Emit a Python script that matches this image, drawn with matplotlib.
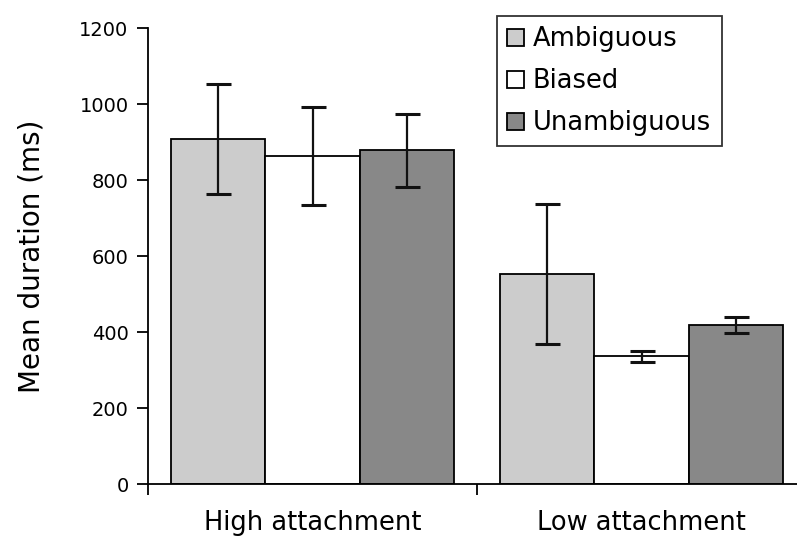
import matplotlib
matplotlib.use("Agg")
import matplotlib.pyplot as plt
import numpy as np

categories = ["High attachment", "Low attachment"]
series = ["Ambiguous", "Biased", "Unambiguous"]
ambiguous = [908, 553]
biased = [864, 336]
unambiguous = [878, 418]
ambiguous_err = [144, 185]
biased_err = [129, 14]
unambiguous_err = [96, 21]
colors = ["#cccccc", "#ffffff", "#888888"]
yticks = [0, 200, 400, 600, 800, 1000, 1200]

W, H = 797, 537
fig = plt.figure(figsize=(W / 100, H / 100), dpi=100)
left, right = 148, 806
top, bottom = 28, 484
ax = fig.add_axes([left / W, 1 - bottom / H, (right - left) / W, (bottom - top) / H])

x = np.arange(len(categories))
bw = 283 / 329 / 3
vals = [ambiguous, biased, unambiguous]
errs = [ambiguous_err, biased_err, unambiguous_err]
for i, (v, e, c, name) in enumerate(zip(vals, errs, colors, series)):
    pos = x + (i - 1) * bw
    ax.bar(pos, v, width=bw, color=c, edgecolor="black", linewidth=1.3, label=name, zorder=2)
    ax.errorbar(pos, v, yerr=e, fmt="none", ecolor="#111111", elinewidth=1.6,
                capsize=9, capthick=2.2, zorder=3)

ax.set_xlim(-0.5, len(categories) - 0.5)
ax.set_ylim(0, 1200)
ax.set_yticks(yticks)
ax.set_yticklabels([str(t) for t in yticks], fontsize=14)
ax.set_xticks([-0.5, 0.5, 1.5])
ax.set_xticklabels([])
ax.tick_params(axis="x", length=8, width=1.3, direction="out")
ax.tick_params(axis="y", length=8, width=1.3, direction="out", pad=6)
for i, c in enumerate(categories):
    ax.annotate(c, xy=(i, 0), xycoords=("data", "axes fraction"), xytext=(0, -19),
                textcoords="offset points", ha="center", va="top", fontsize=18.5)
ax.spines["top"].set_visible(False)
ax.spines["right"].set_visible(False)
ax.spines["left"].set_linewidth(1.3)
ax.spines["bottom"].set_linewidth(1.3)
ax.set_ylabel("Mean duration (ms)", fontsize=20, labelpad=24)

leg = ax.legend(loc="upper left", bbox_to_anchor=((497 - left) / (right - left), 1 - (16 - top) / (bottom - top)),
                fontsize=18.5, frameon=True, fancybox=False, edgecolor="black",
                handlelength=0.65, handleheight=0.65, handletextpad=0.35,
                borderpad=0.4, labelspacing=0.62, borderaxespad=0)
leg.get_frame().set_linewidth(1.3)

fig.savefig("out.png", dpi=100)
